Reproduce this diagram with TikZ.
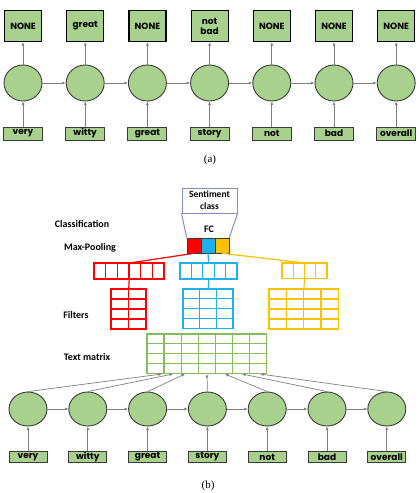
\documentclass[tikz,border=0pt]{standalone}
\usepackage{fontspec}
\setmainfont{Liberation Serif}
\newfontfamily\gothic{Poppins}
\newfontfamily\calib{Carlito}
\usetikzlibrary{positioning,arrows.meta,calc,shapes.geometric}
\definecolor{cellgreen}{HTML}{A9D18E}
\definecolor{cellline}{HTML}{3A3A3A}
\definecolor{arrowgrey}{HTML}{7F7F7F}
\definecolor{poolred}{HTML}{FF0000}
\definecolor{poolblue}{HTML}{1CB0EE}
\definecolor{poolyellow}{HTML}{FFC000}
\definecolor{matgreen}{HTML}{86BC60}
\definecolor{classline}{HTML}{7F8FC0}
% name, colour, left, top, cols, rows, cell width, cell height
\newcommand{\cellgrid}[8]{%
  \node[inner sep=0pt, minimum width={#5*#7*1pt}, minimum height={#6*#8*1pt}, anchor=north west] (#1) at (#3,#4) {};
  \foreach \cc in {1,...,#5}
    \foreach \rr in {1,...,#6}
      \draw[#2, line width=1.25pt] ({#3+(\cc-1)*#7},{#4+(\rr-1)*#8}) rectangle ++(#7,#8);
}

\begin{document}
\begin{tikzpicture}[x=1pt, y=-1pt,
  state/.style={ellipse, draw=cellline, line width=0.9pt, fill=cellgreen, minimum width=38pt, minimum height=36pt, inner sep=0pt},
  stateb/.style={state, minimum height=34pt},
  outbox/.style={draw=black, line width=1.2pt, fill=cellgreen, minimum width=37pt, minimum height=31pt, inner sep=1pt, align=center,
    font=\gothic\bfseries\fontsize{9}{10}\selectfont},
  wordbox/.style={draw=cellline, line width=0.9pt, fill=cellgreen, minimum width=39pt, minimum height=13pt, inner sep=0pt,
    font=\gothic\bfseries\fontsize{9}{10}\selectfont},
  wordboxb/.style={wordbox, minimum width=38pt, minimum height=11pt},
  fcsq/.style={draw=cellline, line width=0.6pt, minimum width=14pt, minimum height=15pt, inner sep=0pt},
  lbl/.style={font=\calib\bfseries\fontsize{10}{12}\selectfont, inner sep=1pt},
  subcap/.style={font=\fontsize{11}{13}\selectfont, inner sep=1pt},
  arr/.style={-{Latex[length=3.5pt,width=3pt]}, draw=arrowgrey, line width=0.7pt}]
\useasboundingbox (0,0) rectangle (419,493);

% (a) sequence tagging
\foreach \i/\o/\w in {1/NONE/very, 2/great/witty, 3/NONE/great, 4/{not\\bad}/story, 5/NONE/not, 6/NONE/bad, 7/NONE/overall}{
  \pgfmathsetmacro\xa{23+62.2*(\i-1)}
  \node[state] (a\i) at (\xa,83) {};
  \node[outbox] (o\i) at (\xa,26) {\o};
  \node[wordbox] (aw\i) at (\xa,133.5) {\w};
  \draw[arr] (aw\i) -- (a\i);
  \draw[arr] (a\i) -- (o\i);
}
\foreach \i [evaluate=\i as \j using int(\i+1)] in {1,...,6}
  \draw[arr] (a\i) -- (a\j);
\node[subcap] (capa) at (210,160) {(a)};

% (b) classification
\node[draw=classline, line width=1pt, minimum width=55pt, minimum height=25pt, inner sep=1pt, align=center,
  font=\calib\bfseries\fontsize{9.5}{12}\selectfont] (sent) at (209.5,200.5) {Sentiment\\class};
\node[lbl] (fclbl) at (209,229) {FC};
\node[fcsq, fill=poolred] (fcR) at (194,245.5) {};
\node[fcsq, fill=poolblue] (fcB) at (208,245.5) {};
\node[fcsq, fill=poolyellow] (fcY) at (222,245.5) {};
\draw[classline, line width=1pt] (sent.south west) -- (fcR.north west);
\draw[classline, line width=1pt] (sent.south east) -- (fcY.north east);

\node[lbl] (lclass) at (82,224) {Classification};
\node[lbl] (lpool) at (90,248) {Max-Pooling};
\node[lbl] (lfilt) at (76,315) {Filters};
\node[lbl] (ltext) at (87,357) {Text matrix};

\cellgrid{poolR}{poolred}{94}{263}{6}{1}{11.67}{16}
\cellgrid{poolB}{poolblue}{180}{263}{5}{1}{11.4}{16}
\cellgrid{poolY}{poolyellow}{282}{263}{4}{1}{11.25}{15.5}
\cellgrid{filtR}{poolred}{111}{289}{2}{4}{17.5}{10}
\cellgrid{filtB}{poolblue}{183}{289}{3}{4}{16.7}{9.8}
\cellgrid{filtY}{poolyellow}{269}{289}{4}{4}{17.3}{10}
\cellgrid{tm}{matgreen}{147}{334}{7}{4}{17.1}{9.8}

\draw[poolred, line width=1.2pt] (fcR.south) -- (poolR.north);
\draw[poolblue, line width=1.2pt] (fcB.south) -- (poolB.north);
\draw[poolyellow, line width=1.2pt] (fcY.south) -- (poolY.north);
\draw[poolred, line width=1.2pt] (poolR.south) -- (filtR.north);
\draw[poolblue, line width=1.2pt] (poolB.south) -- (filtB.north);
\draw[poolyellow, line width=1.2pt] (poolY.south) -- (filtY.north);

\foreach \i/\x in {1/162, 2/173, 3/185, 4/207, 5/225, 6/242, 7/260}
  \coordinate (tm\i) at (\x,374);
\foreach \i/\w in {1/very, 2/witty, 3/great, 4/story, 5/not, 6/bad, 7/overall}{
  \pgfmathsetmacro\xb{28+59.8*(\i-1)}
  \node[stateb] (b\i) at (\xb,409) {};
  \node[wordboxb] (bw\i) at (\xb,457) {\w};
  \draw[arr] (bw\i) -- (b\i);
  \draw[arr] (b\i.north) -- (tm\i);
}
\foreach \i [evaluate=\i as \j using int(\i+1)] in {1,...,6}
  \draw[arr] (b\i) -- (b\j);
\node[subcap] (capb) at (208,486) {(b)};
\end{tikzpicture}
\end{document}
